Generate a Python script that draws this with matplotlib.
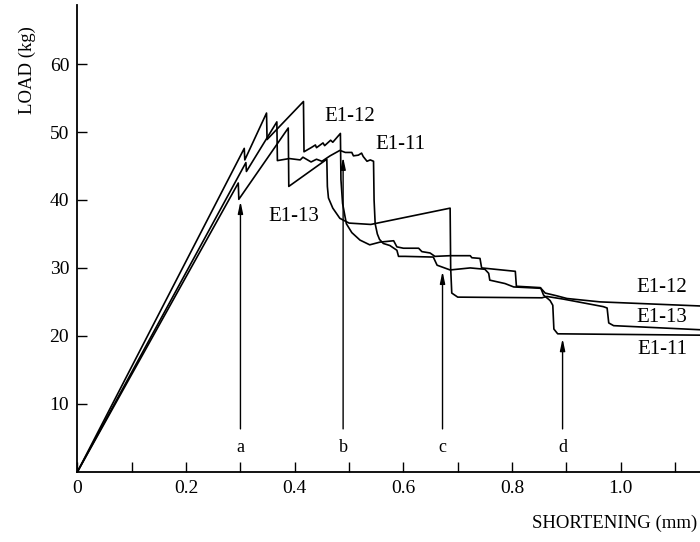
import matplotlib
matplotlib.use("Agg")
import matplotlib.pyplot as plt

# -----------------------------
# Data (shortening in mm, load in kg)
# -----------------------------

e1_12_x = [0.0, 0.307, 0.308, 0.348, 0.349, 0.416, 0.417, 0.430, 0.438, 0.440,
           0.452, 0.455, 0.466, 0.470, 0.484, 0.485, 0.488, 0.495, 0.505, 0.520,
           0.538, 0.557, 0.582, 0.588, 0.600, 0.628, 0.634, 0.649, 0.658, 0.686,
           0.723, 0.726, 0.741, 0.744, 0.806, 0.808, 0.852, 0.861, 0.882, 0.901,
           0.962, 1.146]
e1_12_load = [0.0, 47.6, 45.9, 52.8, 48.9, 54.5, 47.1, 47.7, 48.1, 47.7,
              48.4, 48.0, 48.8, 48.5, 49.8, 43.0, 39.5, 36.5, 35.2, 34.1,
              33.4, 33.8, 34.0, 33.1, 32.9, 32.9, 32.4, 32.2, 31.7, 31.8,
              31.8, 31.5, 31.4, 30.0, 29.5, 27.3, 27.1, 26.3, 25.9, 25.5,
              25.0, 24.4]

e1_11_x = [0.0, 0.310, 0.311, 0.367, 0.368, 0.390, 0.410, 0.415, 0.430, 0.440,
           0.450, 0.465, 0.483, 0.493, 0.505, 0.508, 0.517, 0.523, 0.526, 0.533,
           0.539, 0.545, 0.546, 0.548, 0.552, 0.556, 0.563, 0.575, 0.588, 0.591,
           0.603, 0.655, 0.662, 0.686, 0.723, 0.750, 0.757, 0.759, 0.787, 0.803,
           0.853, 0.858, 0.870, 0.875, 0.877, 0.884, 1.146]
e1_11_load = [0.0, 45.5, 44.2, 51.5, 45.8, 46.1, 45.9, 46.3, 45.6, 46.0,
              45.7, 46.5, 47.3, 47.0, 47.0, 46.5, 46.6, 46.9, 46.4, 45.7,
              45.9, 45.7, 40.0, 36.5, 35.0, 34.2, 33.6, 33.3, 32.6, 31.7,
              31.7, 31.6, 30.4, 29.7, 30.0, 29.8, 29.2, 28.2, 27.7, 27.2,
              27.0, 26.0, 25.2, 24.5, 21.0, 20.3, 20.1]

e1_13_x = [0.0, 0.296, 0.297, 0.388, 0.389, 0.459, 0.460, 0.462, 0.470, 0.483,
           0.500, 0.540, 0.686, 0.687, 0.689, 0.700, 0.855, 0.864, 0.895, 0.968,
           0.975, 0.978, 0.987, 1.146]
e1_13_load = [0.0, 42.5, 40.1, 50.6, 42.0, 46.0, 42.0, 40.3, 38.8, 37.3,
              36.6, 36.4, 38.8, 30.0, 26.3, 25.7, 25.6, 25.8, 25.4, 24.3,
              24.1, 21.9, 21.5, 20.9]

arrow_names = ["a", "b", "c", "d"]
arrow_x = [0.300, 0.489, 0.672, 0.893]
arrow_tip = [39.8, 46.3, 29.5, 19.6]

x_ticks = [0.1 * i for i in range(12)]
x_tick_labels = ["0", "", "0.2", "", "0.4", "", "0.6", "", "0.8", "", "1.0", ""]
y_ticks = [10, 20, 30, 40, 50, 60]

# -----------------------------
# Figure
# -----------------------------

plt.rcParams["font.family"] = ["Liberation Serif", "DejaVu Serif"]

fig = plt.figure(figsize=(7.0, 5.42), dpi=100)
ax = fig.add_axes([0.1107, 0.1297, 0.8893, 0.861])

for xs, ys in [(e1_12_x, e1_12_load), (e1_11_x, e1_11_load), (e1_13_x, e1_13_load)]:
    ax.plot(xs, ys, color="black", linewidth=1.2)

for name, xa, tip in zip(arrow_names, arrow_x, arrow_tip):
    ax.annotate(
        "",
        xy=(xa, tip),
        xytext=(xa, 6.3),
        arrowprops=dict(arrowstyle="-|>,head_length=0.7,head_width=0.15",
                        color="black", linewidth=1.0, shrinkA=0, shrinkB=0),
    )
    ax.text(xa, 3.6, name, ha="center", va="center", fontsize=13)

# curve labels
ax.text(0.502, 52.3, "E1-12", ha="center", va="center", fontsize=15)
ax.text(0.594, 48.2, "E1-11", ha="center", va="center", fontsize=15)
ax.text(0.399, 37.6, "E1-13", ha="center", va="center", fontsize=15)
ax.text(1.076, 27.1, "E1-12", ha="center", va="center", fontsize=15)
ax.text(1.076, 22.7, "E1-13", ha="center", va="center", fontsize=15)
ax.text(1.076, 18.0, "E1-11", ha="center", va="center", fontsize=15)

ax.set_xlim(0, 1.146)
ax.set_ylim(0, 68.7)

ax.spines["top"].set_visible(False)
ax.spines["right"].set_visible(False)
ax.spines["left"].set_linewidth(1.3)
ax.spines["bottom"].set_linewidth(1.3)

ax.set_xticks(x_ticks)
ax.set_xticklabels(x_tick_labels, fontsize=14)
ax.set_yticks(y_ticks)
ax.set_yticklabels([str(v) for v in y_ticks], fontsize=14)
ax.tick_params(axis="both", direction="in", length=7, width=1.0, pad=6)

fig.text(0.039, 0.871, "LOAD (kg)", rotation=90, ha="center", va="center", fontsize=13.5)
fig.text(0.996, 0.035, "SHORTENING (mm)", ha="right", va="center", fontsize=13.5)

fig.savefig("out.png", dpi=100)
